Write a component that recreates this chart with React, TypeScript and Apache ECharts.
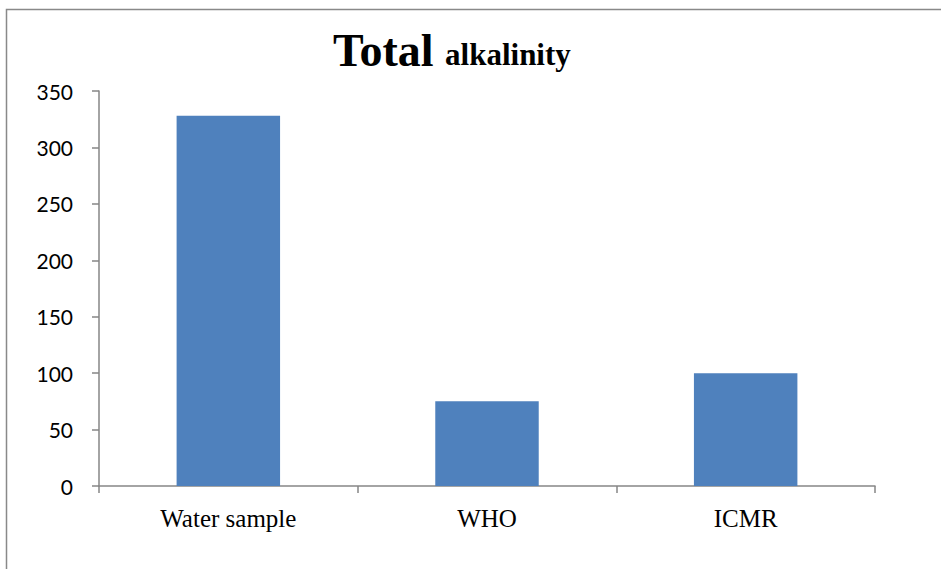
import React, { useEffect, useRef } from "react";
import * as echarts from "echarts";

const categories = ["Water sample", "WHO", "ICMR"];
const values = [328, 75, 100];
const yTicks = { min: 0, max: 350, interval: 50 };

export default function App() {
  const ref = useRef<HTMLDivElement>(null);
  useEffect(() => {
    document.body.style.margin = "0";
    const chart = echarts.init(ref.current!, null, { renderer: "svg" });
    chart.setOption({
      animation: false,
      backgroundColor: "#ffffff",
      title: {
        text: "{a|Total }{b|alkalinity}",
        left: 328,
        top: 22,
        textStyle: {
          rich: {
            a: { fontFamily: "Liberation Serif", fontWeight: "bold", fontSize: 46, lineHeight: 46, verticalAlign: "bottom", color: "#000" },
            b: { fontFamily: "Liberation Serif", fontWeight: "bold", fontSize: 31, lineHeight: 31, verticalAlign: "bottom", padding: [0, 0, 3, 0], color: "#000" },
          },
        },
      },
      graphic: [
        {
          type: "rect",
          shape: { x: 6.5, y: 9.5, width: 1000, height: 1000 },
          style: { fill: "none", stroke: "#898989", lineWidth: 1.5 },
          silent: true,
        },
      ],
      grid: { left: 99, right: 66, top: 91, bottom: 83 },
      xAxis: {
        type: "category",
        data: categories,
        axisLine: { lineStyle: { color: "#868686", width: 1.5 } },
        axisTick: { show: true, length: 7, inside: false, alignWithLabel: false, lineStyle: { color: "#868686", width: 1.5 } },
        axisLabel: { fontFamily: "Liberation Serif", fontSize: 25, color: "#000", margin: 20 },
      },
      yAxis: {
        type: "value",
        min: yTicks.min,
        max: yTicks.max,
        interval: yTicks.interval,
        axisLine: { show: true, lineStyle: { color: "#868686", width: 1.5 } },
        axisTick: { show: true, length: 7, lineStyle: { color: "#868686", width: 1.5 } },
        splitLine: { show: false },
        axisLabel: { fontFamily: "Lato", fontSize: 21, color: "#000", margin: 26 },
      },
      series: [
        {
          type: "bar",
          data: values,
          barCategoryGap: "60%",
          itemStyle: { color: "#4F81BD" },
        },
      ],
    });
    return () => chart.dispose();
  }, []);
  return <div ref={ref} style={{ width: 941, height: 569 }} />;
}
